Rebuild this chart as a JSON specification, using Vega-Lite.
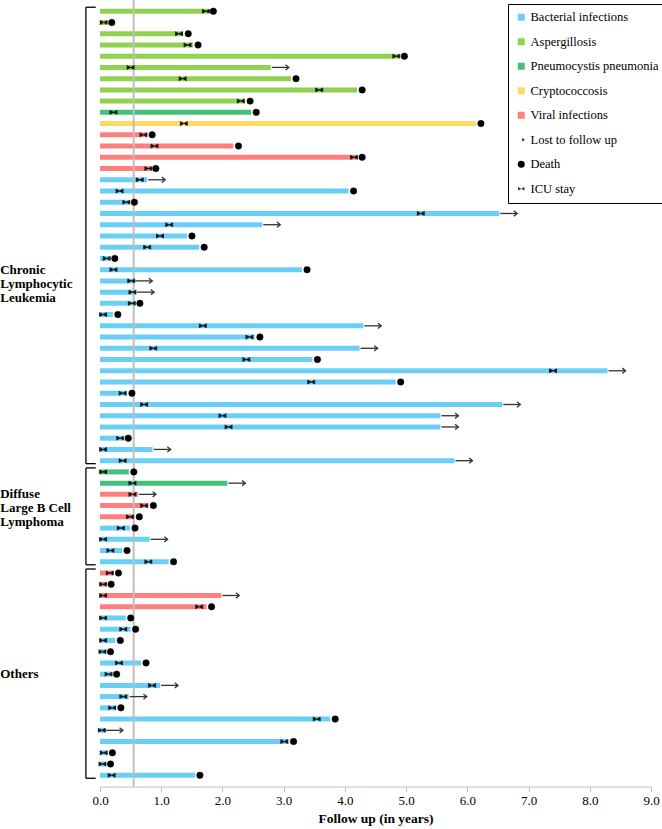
{
  "$schema": "https://vega.github.io/schema/vega-lite/v6.json",
  "width": 551,
  "height": 786.5,
  "autosize": {"type": "none"},
  "padding": {"left": 100, "top": 0, "right": 11, "bottom": 42.5},
  "background": "white",
  "config": {"view": {"stroke": null}, "font": "'Liberation Serif', 'Times New Roman', Times, serif"},
  "datasets": {
    "pts": [
      {"row": 1, "type": "Aspergillosis", "end": 1.77, "icu": 1.73, "outcome": "Death"},
      {"row": 2, "type": "Aspergillosis", "end": 0.11, "icu": 0.06, "outcome": "Death"},
      {"row": 3, "type": "Aspergillosis", "end": 1.36, "icu": 1.29, "outcome": "Death"},
      {"row": 4, "type": "Aspergillosis", "end": 1.52, "icu": 1.43, "outcome": "Death"},
      {"row": 5, "type": "Aspergillosis", "end": 4.89, "icu": 4.84, "outcome": "Death"},
      {"row": 6, "type": "Aspergillosis", "end": 2.79, "icu": 0.50, "outcome": "Lost to follow up"},
      {"row": 7, "type": "Aspergillosis", "end": 3.12, "icu": 1.35, "outcome": "Death"},
      {"row": 8, "type": "Aspergillosis", "end": 4.20, "icu": 3.58, "outcome": "Death"},
      {"row": 9, "type": "Aspergillosis", "end": 2.37, "icu": 2.30, "outcome": "Death"},
      {"row": 10, "type": "Pneumocystis pneumonia", "end": 2.47, "icu": 0.22, "outcome": "Death"},
      {"row": 11, "type": "Cryptococcosis", "end": 6.14, "icu": 1.37, "outcome": "Death"},
      {"row": 12, "type": "Viral infections", "end": 0.77, "icu": 0.71, "outcome": "Death"},
      {"row": 13, "type": "Viral infections", "end": 2.18, "icu": 0.89, "outcome": "Death"},
      {"row": 14, "type": "Viral infections", "end": 4.20, "icu": 4.15, "outcome": "Death"},
      {"row": 15, "type": "Viral infections", "end": 0.83, "icu": 0.79, "outcome": "Death"},
      {"row": 16, "type": "Bacterial infections", "end": 0.77, "icu": 0.65, "outcome": "Lost to follow up"},
      {"row": 17, "type": "Bacterial infections", "end": 4.06, "icu": 0.32, "outcome": "Death"},
      {"row": 18, "type": "Bacterial infections", "end": 0.48, "icu": 0.43, "outcome": "Death"},
      {"row": 19, "type": "Bacterial infections", "end": 6.52, "icu": 5.24, "outcome": "Lost to follow up"},
      {"row": 20, "type": "Bacterial infections", "end": 2.65, "icu": 1.13, "outcome": "Lost to follow up"},
      {"row": 21, "type": "Bacterial infections", "end": 1.42, "icu": 0.98, "outcome": "Death"},
      {"row": 22, "type": "Bacterial infections", "end": 1.62, "icu": 0.77, "outcome": "Death"},
      {"row": 23, "type": "Bacterial infections", "end": 0.16, "icu": 0.11, "outcome": "Death"},
      {"row": 24, "type": "Bacterial infections", "end": 3.30, "icu": 0.22, "outcome": "Death"},
      {"row": 25, "type": "Bacterial infections", "end": 0.56, "icu": 0.51, "outcome": "Lost to follow up"},
      {"row": 26, "type": "Bacterial infections", "end": 0.59, "icu": 0.53, "outcome": "Lost to follow up"},
      {"row": 27, "type": "Bacterial infections", "end": 0.57, "icu": 0.52, "outcome": "Death"},
      {"row": 28, "type": "Bacterial infections", "end": 0.21, "icu": 0.05, "outcome": "Death"},
      {"row": 29, "type": "Bacterial infections", "end": 4.30, "icu": 1.68, "outcome": "Lost to follow up"},
      {"row": 30, "type": "Bacterial infections", "end": 2.53, "icu": 2.44, "outcome": "Death"},
      {"row": 31, "type": "Bacterial infections", "end": 4.24, "icu": 0.87, "outcome": "Lost to follow up"},
      {"row": 32, "type": "Bacterial infections", "end": 3.47, "icu": 2.39, "outcome": "Death"},
      {"row": 33, "type": "Bacterial infections", "end": 8.29, "icu": 7.40, "outcome": "Lost to follow up"},
      {"row": 34, "type": "Bacterial infections", "end": 4.83, "icu": 3.45, "outcome": "Death"},
      {"row": 35, "type": "Bacterial infections", "end": 0.44, "icu": 0.37, "outcome": "Death"},
      {"row": 36, "type": "Bacterial infections", "end": 6.57, "icu": 0.72, "outcome": "Lost to follow up"},
      {"row": 37, "type": "Bacterial infections", "end": 5.56, "icu": 2.00, "outcome": "Lost to follow up"},
      {"row": 38, "type": "Bacterial infections", "end": 5.56, "icu": 2.10, "outcome": "Lost to follow up"},
      {"row": 39, "type": "Bacterial infections", "end": 0.38, "icu": 0.33, "outcome": "Death"},
      {"row": 40, "type": "Bacterial infections", "end": 0.86, "icu": 0.05, "outcome": "Lost to follow up"},
      {"row": 41, "type": "Bacterial infections", "end": 5.79, "icu": 0.37, "outcome": "Lost to follow up"},
      {"row": 42, "type": "Pneumocystis pneumonia", "end": 0.47, "icu": 0.05, "outcome": "Death"},
      {"row": 43, "type": "Pneumocystis pneumonia", "end": 2.08, "icu": 0.53, "outcome": "Lost to follow up"},
      {"row": 44, "type": "Viral infections", "end": 0.62, "icu": 0.53, "outcome": "Lost to follow up"},
      {"row": 45, "type": "Viral infections", "end": 0.79, "icu": 0.72, "outcome": "Death"},
      {"row": 46, "type": "Viral infections", "end": 0.56, "icu": 0.49, "outcome": "Death"},
      {"row": 47, "type": "Bacterial infections", "end": 0.49, "icu": 0.34, "outcome": "Death"},
      {"row": 48, "type": "Bacterial infections", "end": 0.81, "icu": 0.05, "outcome": "Lost to follow up"},
      {"row": 49, "type": "Bacterial infections", "end": 0.36, "icu": 0.17, "outcome": "Death"},
      {"row": 50, "type": "Bacterial infections", "end": 1.12, "icu": 0.79, "outcome": "Death"},
      {"row": 51, "type": "Viral infections", "end": 0.22, "icu": 0.16, "outcome": "Death"},
      {"row": 52, "type": "Viral infections", "end": 0.10, "icu": 0.05, "outcome": "Death"},
      {"row": 53, "type": "Viral infections", "end": 1.98, "icu": 0.05, "outcome": "Lost to follow up"},
      {"row": 54, "type": "Viral infections", "end": 1.74, "icu": 1.62, "outcome": "Death"},
      {"row": 55, "type": "Bacterial infections", "end": 0.42, "icu": 0.05, "outcome": "Death"},
      {"row": 56, "type": "Bacterial infections", "end": 0.50, "icu": 0.38, "outcome": "Death"},
      {"row": 57, "type": "Bacterial infections", "end": 0.25, "icu": 0.05, "outcome": "Death"},
      {"row": 58, "type": "Bacterial infections", "end": 0.09, "icu": 0.04, "outcome": "Death"},
      {"row": 59, "type": "Bacterial infections", "end": 0.67, "icu": 0.31, "outcome": "Death"},
      {"row": 60, "type": "Bacterial infections", "end": 0.19, "icu": 0.14, "outcome": "Death"},
      {"row": 61, "type": "Bacterial infections", "end": 0.98, "icu": 0.85, "outcome": "Lost to follow up"},
      {"row": 62, "type": "Bacterial infections", "end": 0.47, "icu": 0.38, "outcome": "Lost to follow up"},
      {"row": 63, "type": "Bacterial infections", "end": 0.26, "icu": 0.20, "outcome": "Death"},
      {"row": 64, "type": "Bacterial infections", "end": 3.76, "icu": 3.54, "outcome": "Death"},
      {"row": 65, "type": "Bacterial infections", "end": 0.08, "icu": 0.03, "outcome": "Lost to follow up"},
      {"row": 66, "type": "Bacterial infections", "end": 3.08, "icu": 3.01, "outcome": "Death"},
      {"row": 67, "type": "Bacterial infections", "end": 0.12, "icu": 0.06, "outcome": "Death"},
      {"row": 68, "type": "Bacterial infections", "end": 0.09, "icu": 0.04, "outcome": "Death"},
      {"row": 69, "type": "Bacterial infections", "end": 1.55, "icu": 0.19, "outcome": "Death"}
    ],
    "groups": [
      {"group": "CLL", "first": 1, "last": 41, "mid": 24, "label": "Chronic\nLymphocytic\nLeukemia"},
      {"group": "DLBCL", "first": 42, "last": 50, "mid": 44, "label": "Diffuse\nLarge B Cell\nLymphoma"},
      {"group": "Others", "first": 51, "last": 69, "mid": 60, "label": "Others"}
    ]
  },
  "layer": [
    {
      "data": {"name": "pts"},
      "mark": {"type": "bar", "size": 5},
      "encoding": {
        "y": {
          "field": "row", "type": "ordinal", "axis": null,
          "scale": {"domain": [1,2,3,4,5,6,7,8,9,10,11,12,13,14,15,16,17,18,19,20,21,22,23,24,25,26,27,28,29,30,31,32,33,34,35,36,37,38,39,40,41,42,43,44,45,46,47,48,49,50,51,52,53,54,55,56,57,58,59,60,61,62,63,64,65,66,67,68,69], "paddingInner": 0, "paddingOuter": 0.5}
        },
        "x": {
          "field": "end", "type": "quantitative",
          "scale": {"domain": [0, 9], "nice": false, "zero": true},
          "axis": {
            "title": "Follow up (in years)",
            "values": [0,1,2,3,4,5,6,7,8,9], "format": ".1f", "grid": false,
            "domainColor": "#BFBFBF", "tickColor": "#BFBFBF", "tickSize": 5,
            "labelFont": "'Liberation Serif', 'Times New Roman', Times, serif", "labelFontSize": 13, "labelColor": "black",
            "labelPadding": 3, "labelFlush": false, "labelOverlap": false,
            "titleFont": "'Liberation Serif', 'Times New Roman', Times, serif", "titleFontSize": 13.5, "titleFontWeight": "bold",
            "titleColor": "black", "titlePadding": 4
          }
        },
        "color": {
          "field": "type", "type": "nominal",
          "scale": {
            "domain": ["Bacterial infections", "Aspergillosis", "Pneumocystis pneumonia", "Cryptococcosis", "Viral infections", "Lost to follow up", "Death", "ICU stay"],
            "range": ["#6ACFF6", "#92D050", "#45C07A", "#FFD966", "#FF7F7F", "#222222", "#000000", "#222222"]
          },
          "legend": {
            "title": null, "orient": "none", "legendX": 408, "legendY": 4,
            "strokeColor": "black", "fillColor": "white", "padding": 7,
            "labelFont": "'Liberation Serif', 'Times New Roman', Times, serif", "labelFontSize": 12.5, "labelColor": "black",
            "labelOffset": 3, "rowPadding": 11.5, "symbolSize": 49, "labelLimit": 300,
            "symbolType": "square",
            "encoding": {
              "symbols": {
                "update": {
                  "shape": {"scale": "shape", "field": "value"},
                  "fill": {"scale": "color", "field": "value"},
                  "stroke": {"scale": "color", "field": "value"},
                  "strokeWidth": {"value": 1},
                  "opacity": {"value": 1}
                }
              }
            }
          }
        }
      }
    },
    {
      "data": {"values": [{}]},
      "mark": {"type": "rule", "color": "#BFBFBF", "strokeWidth": 2},
      "encoding": {"x": {"datum": 0.55, "type": "quantitative"}}
    },
    {
      "data": {"name": "pts"},
      "transform": [{"filter": "datum.outcome === 'Lost to follow up'"}],
      "mark": {"type": "rule", "color": "#333333", "strokeWidth": 1.3, "xOffset": 1, "x2Offset": 18},
      "encoding": {
        "x": {"field": "end", "type": "quantitative"},
        "x2": {"field": "end"},
        "y": {"field": "row", "type": "ordinal", "axis": null}
      }
    },
    {
      "data": {"name": "pts"},
      "transform": [{"filter": "datum.outcome === 'Lost to follow up'"}],
      "mark": {"type": "point", "shape": "M-1,-0.8L0,0L-1,0.8", "size": 44, "filled": false, "stroke": "#333333", "strokeWidth": 1.3, "xOffset": 18, "opacity": 1},
      "encoding": {
        "x": {"field": "end", "type": "quantitative"},
        "y": {"field": "row", "type": "ordinal", "axis": null}
      }
    },
    {
      "data": {"name": "pts"},
      "transform": [{"filter": "datum.outcome === 'Death'"}],
      "mark": {"type": "point", "filled": true, "fill": "black", "stroke": "black", "strokeWidth": 0.5, "size": 42, "xOffset": 5, "opacity": 1},
      "encoding": {
        "x": {"field": "end", "type": "quantitative"},
        "y": {"field": "row", "type": "ordinal", "axis": null},
        "shape": {
          "field": "outcome", "type": "nominal", "legend": null,
          "scale": {
            "domain": ["Bacterial infections", "Aspergillosis", "Pneumocystis pneumonia", "Cryptococcosis", "Viral infections", "Lost to follow up", "Death", "ICU stay"],
            "range": ["square", "square", "square", "square", "square", "M-1,0L0.9,0M0.3,-0.6L1,0L0.3,0.6", "circle", "M-1,-0.65L-1,0.65M1,-0.65L1,0.65M-0.9,-0.5L0,0L-0.9,0.5ZM0.9,-0.5L0,0L0.9,0.5Z"]
          }
        }
      }
    },
    {
      "data": {"name": "pts"},
      "mark": {"type": "point", "filled": true, "fill": "#111111", "stroke": "#111111", "strokeWidth": 0.7, "size": 49, "opacity": 1},
      "encoding": {
        "x": {"field": "icu", "type": "quantitative"},
        "y": {"field": "row", "type": "ordinal", "axis": null},
        "shape": {"datum": "ICU stay", "type": "nominal", "legend": null}
      }
    },
    {
      "data": {"name": "groups"},
      "mark": {"type": "rule", "color": "black", "strokeWidth": 1.3, "yOffset": -4, "y2Offset": 3},
      "encoding": {
        "x": {"datum": -0.23, "type": "quantitative"},
        "y": {"field": "first", "type": "ordinal", "axis": null, "bandPosition": 0.5},
        "y2": {"field": "last", "bandPosition": 0.5}
      }
    },
    {
      "data": {"name": "groups"},
      "mark": {"type": "rule", "color": "black", "strokeWidth": 1.3, "yOffset": -4},
      "encoding": {
        "x": {"datum": -0.23, "type": "quantitative"},
        "x2": {"datum": -0.07},
        "y": {"field": "first", "type": "ordinal", "axis": null, "bandPosition": 0.5}
      }
    },
    {
      "data": {"name": "groups"},
      "mark": {"type": "rule", "color": "black", "strokeWidth": 1.3, "yOffset": 3},
      "encoding": {
        "x": {"datum": -0.23, "type": "quantitative"},
        "x2": {"datum": -0.07},
        "y": {"field": "last", "type": "ordinal", "axis": null, "bandPosition": 0.5}
      }
    },
    {
      "data": {"name": "groups"},
      "mark": {"type": "text", "align": "left", "baseline": "middle", "fontWeight": "bold", "fontSize": 13, "font": "'Liberation Serif', 'Times New Roman', Times, serif", "lineBreak": "\n", "lineHeight": 14, "dy": 0, "color": "black"},
      "encoding": {
        "x": {"datum": -1.63, "type": "quantitative"},
        "y": {"field": "mid", "type": "ordinal", "axis": null},
        "text": {"field": "label"}
      }
    }
  ]
}
